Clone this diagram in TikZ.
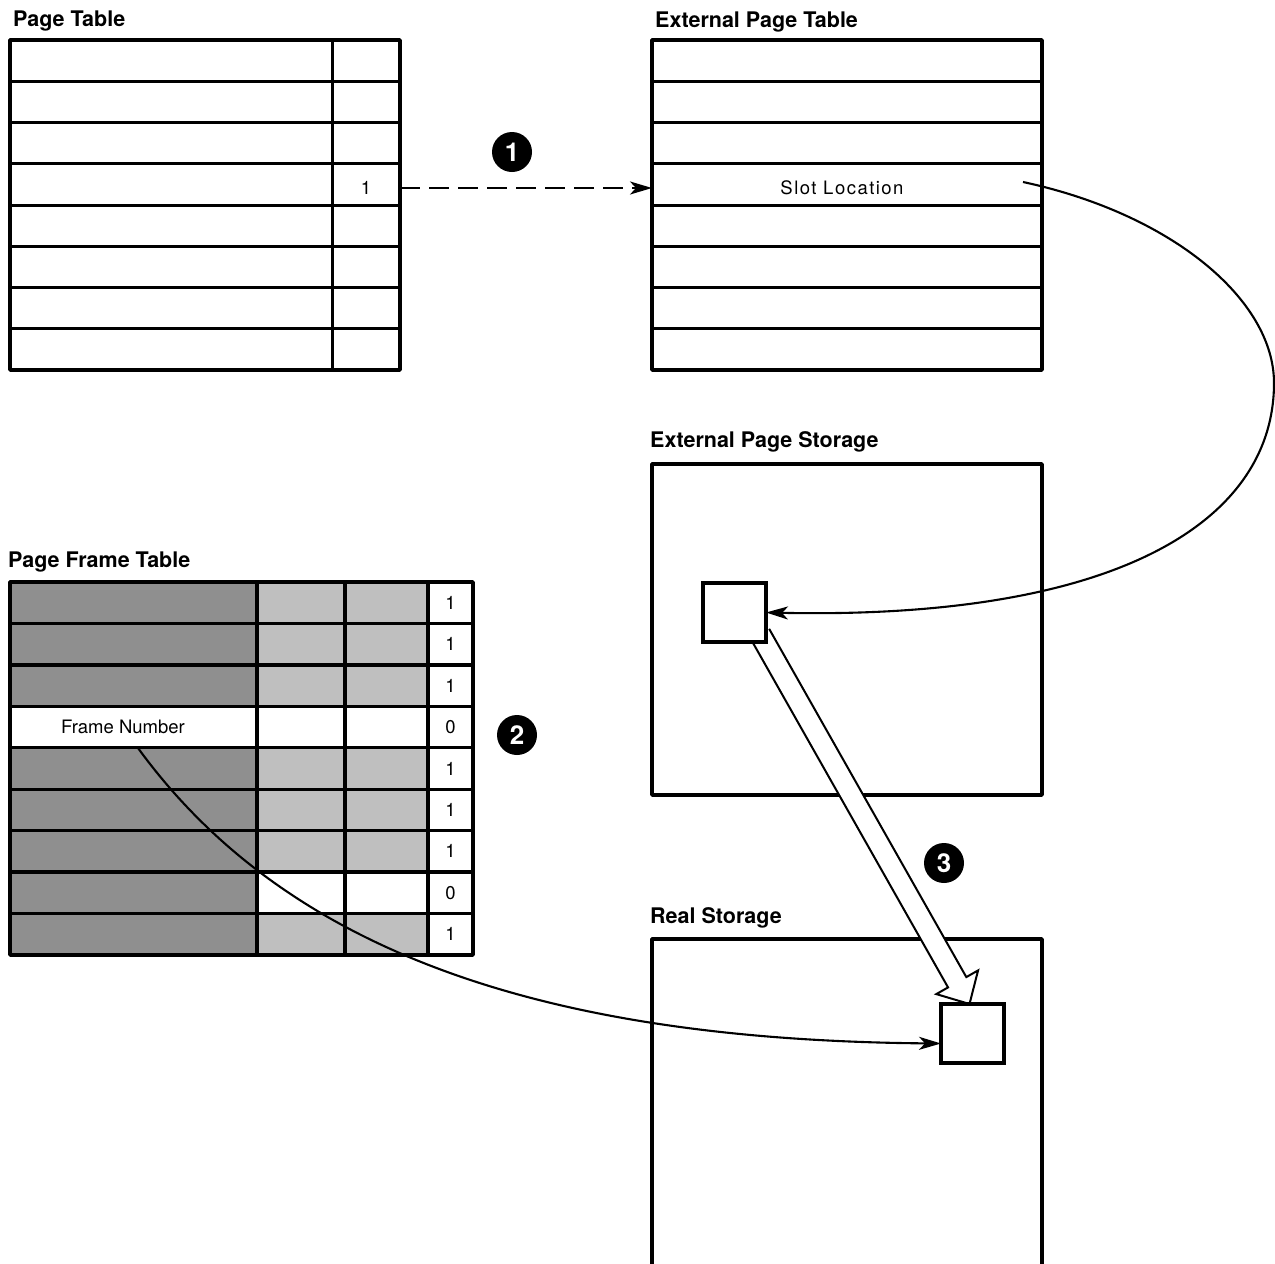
\documentclass[tikz,border=0pt]{standalone}
\usepackage{fontspec}
\setmainfont{TeX Gyre Heros}
\usetikzlibrary{arrows.meta,calc}
\definecolor{shadeDark}{gray}{0.56}
\definecolor{shadeLight}{gray}{0.75}
\begin{document}
\begin{tikzpicture}[x=1pt,y=-1pt,
  framebox/.style={draw, line width=3.6pt, line join=round, inner sep=0pt, outer sep=0pt},
  rule/.style={line width=3pt},
  title/.style={anchor=base west, inner sep=0pt, font=\bfseries\fontsize{21.5}{24}\selectfont},
  cell/.style={inner sep=0pt, font=\fontsize{18.5}{20}\selectfont},
  marker/.style={circle, fill=black, text=white, minimum size=40pt, inner sep=0pt,
                 font=\bfseries\fontsize{26}{26}\selectfont},
  slotbox/.style={draw, line width=3.4pt, fill=white, minimum width=63pt, minimum height=59pt,
                  inner sep=0pt, outer sep=0pt},
  conn/.style={line width=2.1pt, -{Stealth[length=22pt,width=13pt,inset=6pt]}},
  hollow/.style={line width=2pt, fill=white, line join=miter},
]
\useasboundingbox (0,0) rectangle (1275,1264);

% ---------- titles ----------
\node[title] (t-pt)  at (13,26)   {Page Table};
\node[title] (t-ept) at (655,27)  {External Page Table};
\node[title] (t-eps) at (650,447) {External Page Storage};
\node[title] (t-pft) at (8,567)   {Page Frame Table};
\node[title] (t-rs)  at (650,923) {Real Storage};

% ---------- page table ----------
\foreach \k in {1,...,7}
  \draw[rule] (10,{40+\k*41.25}) -- (400,{40+\k*41.25});
\draw[rule] (332,40) -- (332,370);
\node[framebox, minimum width=390pt, minimum height=330pt] (pt) at (205,205) {};
\node[cell] (pt-flag) at (366,188) {1};

% ---------- external page table ----------
\foreach \k in {1,...,7}
  \draw[rule] (652,{40+\k*41.25}) -- (1042,{40+\k*41.25});
\node[framebox, minimum width=390pt, minimum height=330pt] (ept) at (847,205) {};
\node[cell] (slot) at (842,188) {\addfontfeatures{LetterSpace=8}Slot Location};
\coordinate (slot-out) at (1023,182);

% ---------- external page storage ----------
\node[framebox, minimum width=390pt, minimum height=331pt] (eps) at (847,629.5) {};
\node[slotbox] (eps-slot) at (734.5,612.5) {};

% ---------- real storage (runs off the bottom) ----------
\draw[line width=3.6pt, line join=round] (652,1270) |- (1042,939) -- (1042,1270);
\node[slotbox] (rs-slot) at (972.5,1033.5) {};

% ---------- page frame table ----------
\foreach \k in {0,1,2,4,5,6,7,8}
  \fill[shadeDark] (10,{582+\k*41.44}) rectangle (257,{582+(\k+1)*41.44});
\foreach \k in {0,1,2,4,5,6,8}
  \fill[shadeLight] (257,{582+\k*41.44}) rectangle (428,{582+(\k+1)*41.44});
\foreach \k in {1,...,8}
  \draw[rule, line width=3.4pt] (10,{582+\k*41.44}) -- (473,{582+\k*41.44});
\foreach \c in {257,345,428}
  \draw[rule, line width=3.4pt] (\c,582) -- (\c,955);
\node[framebox, minimum width=463pt, minimum height=373pt] (pft) at (241.5,768.5) {};
\foreach \d [count=\k from 0] in {1,1,1,0,1,1,1,0,1}
  \node[cell] (pft-v\k) at (450.5,{582+(\k+0.5)*41.44}) {\d};
\node[cell] (frame) at (123,727) {Frame Number};
\coordinate (frame-out) at (138,748);

% ---------- step markers ----------
\node[marker] (m1) at (512,152) {1};
\node[marker] (m2) at (517,735) {2};
\node[marker] (m3) at (944,863) {3};

% ---------- step 1: page table entry to external page table ----------
\draw[conn, line width=2.4pt, dash pattern=on 20pt off 9pt]
  (pt.east |- pt-flag) -- (ept.west |- pt-flag);

% ---------- slot location to the slot in external storage ----------
\draw[conn] (slot-out) .. controls (1172,214) and (1274,300) .. (1274,383)
  .. controls (1274,520) and (1120,620) .. (eps-slot.east);

% ---------- step 3: page-in transfer (hollow arrow) ----------
\coordinate (ha-s) at ($(eps-slot.south east)+(-6,-8)$);
\coordinate (ha-t) at ($(rs-slot.north)+(-3,0)$);
\coordinate (ha-b) at ($(ha-t)!25pt!(ha-s)$);
\draw[hollow]
  ($(ha-s)!10.5pt!90:(ha-t)$) -- ($(ha-b)!10.5pt!-90:(ha-s)$)
  -- ($(ha-b)!24pt!-90:(ha-s)$) -- (ha-t)
  -- ($(ha-b)!24pt!90:(ha-s)$) -- ($(ha-b)!10.5pt!90:(ha-s)$)
  -- ($(ha-s)!10.5pt!-90:(ha-t)$);
\draw[line width=3.4pt, fill=white] (eps-slot.south west) rectangle (eps-slot.north east);
\draw[line width=3.4pt] (rs-slot.south west) rectangle (rs-slot.north east);

% ---------- step 2: frame number to the frame in real storage ----------
\draw[conn] (frame-out) .. controls (285,950) and (540,1040) .. ([yshift=-10pt]rs-slot.west);

\end{tikzpicture}
\end{document}
